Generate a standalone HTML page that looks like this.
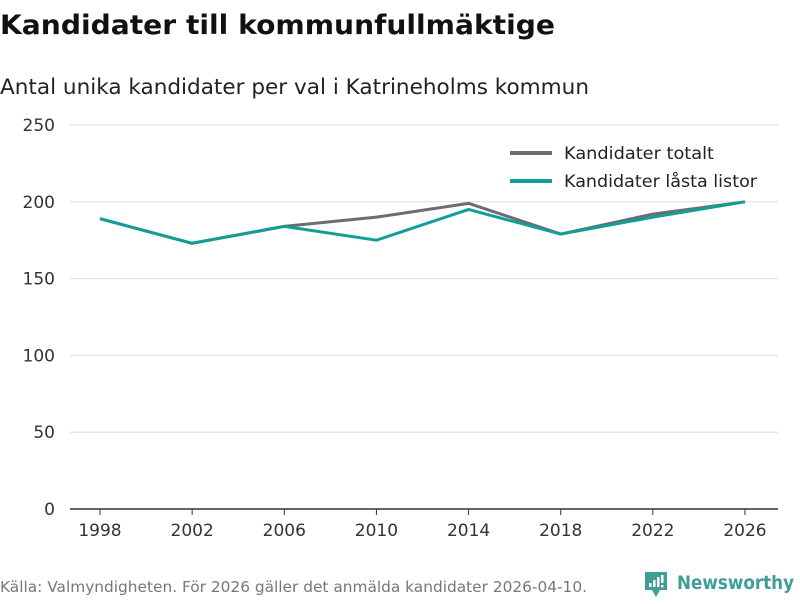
<!DOCTYPE html>
<html><head><meta charset="utf-8"><style>
body{margin:0;background:#fff;font-family:"DejaVu Sans","Liberation Sans",sans-serif;}
svg text{font-family:"DejaVu Sans","Liberation Sans",sans-serif;}
</style></head><body>
<svg id="chart" width="800" height="600">
<text x="0" y="34" font-size="27" font-weight="bold" fill="#111" textLength="555" lengthAdjust="spacingAndGlyphs">Kandidater till kommunfullmäktige</text>
<text x="0" y="94" font-size="21" fill="#222" textLength="589" lengthAdjust="spacingAndGlyphs">Antal unika kandidater per val i Katrineholms kommun</text>
<g id="grid"></g>
<g id="lines"></g>
<g>
<line x1="510" y1="153" x2="552" y2="153" stroke="#6d6c71" stroke-width="4"/>
<text x="564" y="159" font-size="17" fill="#222" textLength="150" lengthAdjust="spacingAndGlyphs">Kandidater totalt</text>
<line x1="510" y1="181" x2="552" y2="181" stroke="#109f97" stroke-width="4"/>
<text x="564" y="187" font-size="17" fill="#222" textLength="193" lengthAdjust="spacingAndGlyphs">Kandidater låsta listor</text>
</g>
<text x="0" y="592" font-size="15" fill="#777" textLength="587" lengthAdjust="spacingAndGlyphs">Källa: Valmyndigheten. För 2026 gäller det anmälda kandidater 2026-04-10.</text>
<g>
<path d="M645 572 h22 v18 h-7 l-4 7 l-4 -7 h-7 z" fill="#3f9e96"/>
<rect x="649" y="583" width="2.5" height="4" fill="#fff"/><rect x="653" y="580" width="2.5" height="7" fill="#fff"/><rect x="657" y="577" width="2.5" height="10" fill="#fff"/><rect x="661" y="575" width="2.5" height="8" fill="#fff"/><rect x="661" y="585" width="2.5" height="2.5" fill="#fff"/>
<text x="677" y="589" font-size="19" font-weight="bold" fill="#3f9e96" textLength="117" lengthAdjust="spacingAndGlyphs">Newsworthy</text>
</g>
</svg>
<script>
const years=[1998,2002,2006,2010,2014,2018,2022,2026];
const totalt=[189,173,184,190,199,179,192,200];
const lasta=[189,173,184,175,195,179,190,200];
const yTicks=[0,50,100,150,200,250];
const NS='http://www.w3.org/2000/svg';
const x=v=>100+(v-1998)*(645/28);
const y=v=>509-v*1.536;
const grid=document.getElementById('grid');
yTicks.forEach(t=>{
 const l=document.createElementNS(NS,'line');
 l.setAttribute('x1',70);l.setAttribute('x2',778);l.setAttribute('y1',y(t));l.setAttribute('y2',y(t));
 l.setAttribute('stroke',t===0?'#333':'#ddd');l.setAttribute('stroke-width',t===0?1.5:1);
 
 
 grid.appendChild(l);
 const tx=document.createElementNS(NS,'text');
 tx.setAttribute('x',55);tx.setAttribute('y',y(t)+6);tx.setAttribute('text-anchor','end');tx.setAttribute('font-size','17');tx.setAttribute('fill','#333');
 tx.textContent=t;
 
 
 grid.appendChild(tx);
});
years.forEach(yr=>{
 const l=document.createElementNS(NS,'line');
 l.setAttribute('x1',x(yr));l.setAttribute('x2',x(yr));l.setAttribute('y1',509);l.setAttribute('y2',515);l.setAttribute('stroke','#333');
 
 
 grid.appendChild(l);
 const tx=document.createElementNS(NS,'text');
 tx.setAttribute('x',x(yr));tx.setAttribute('y',536);tx.setAttribute('text-anchor','middle');tx.setAttribute('font-size','17');tx.setAttribute('fill','#333');
 tx.textContent=yr;
 
 
 grid.appendChild(tx);
});
const lines=document.getElementById('lines');
[[totalt,'#6d6c71','line-totalt'],[lasta,'#109f97','line-lasta']].forEach(([d,c,n])=>{
 const p=document.createElementNS(NS,'polyline');
 p.setAttribute('points',d.map((v,i)=>x(years[i])+','+y(v)).join(' '));
 p.setAttribute('fill','none');p.setAttribute('stroke',c);p.setAttribute('stroke-width',3);p.setAttribute('stroke-linejoin','round');
 
 
 lines.appendChild(p);
});
</script>
</body></html>
